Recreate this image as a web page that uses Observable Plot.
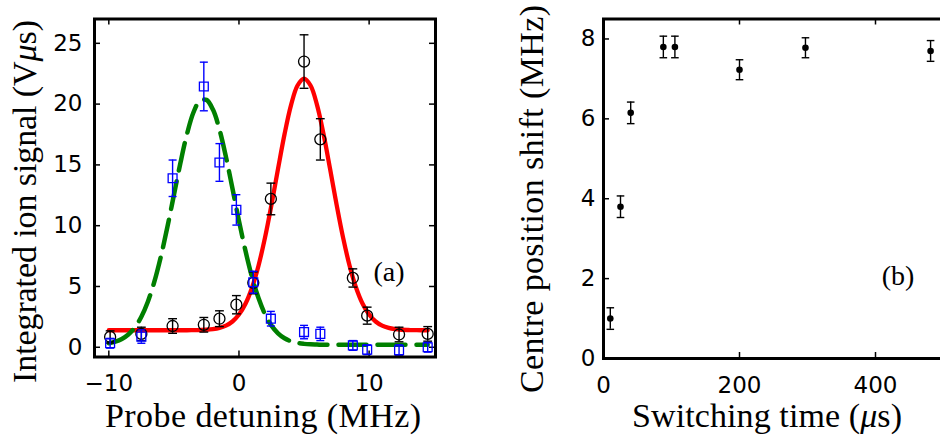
<!DOCTYPE html>
<html><head><meta charset="utf-8">
<script src="https://cdn.jsdelivr.net/npm/d3@7"></script>
<script src="https://cdn.jsdelivr.net/npm/@observablehq/plot@0.6"></script>
<style>
html,body{margin:0;padding:0;background:#fff;overflow:hidden}
#wrap{position:relative;width:940px;height:438px;overflow:hidden;background:#fff}
.panel{position:absolute;top:0}
#overlay{position:absolute;left:0;top:0;pointer-events:none}
</style></head><body>
<div id="wrap"><div id="pa" class="panel" style="left:0;width:470px"></div><div id="pb" class="panel" style="left:470px;width:480px"></div></div>
<script>
// ---------- Panel (a) data ----------
const detuning = [-9.9, -7.5, -5.1, -2.7, -1.5, -0.2, 1.1, 2.45, 5.0, 6.25, 8.75, 9.85, 12.3, 14.5];
const ionBlack = [0.85, 1.1, 1.75, 1.85, 2.35, 3.5, 5.3, 12.2, 23.5, 17.1, 5.7, 2.6, 1.05, 1.1];
const ionBlackErr = [0.5, 0.55, 0.6, 0.6, 0.65, 0.75, 0.9, 1.3, 2.2, 1.7, 0.75, 0.7, 0.6, 0.6];
const ionBlue = [0.33, 0.88, 13.9, 21.45, 15.2, 11.3, 5.35, 2.35, 1.25, 1.1, 0.15, -0.2, -0.25, 0.0];
const ionBlueErr = [0.4, 0.55, 1.5, 2.0, 1.55, 1.25, 0.9, 0.6, 0.55, 0.55, 0.4, 0.4, 0.45, 0.4];
const fitX = [-10,-9.5,-9,-8.5,-8,-7.5,-7,-6.5,-6,-5.5,-5,-4.5,-4,-3.5,-3,-2.5,-2,-1.5,-1,-0.5,0,0.5,1,1.5,2,2.5,3,3.5,4,4.5,5,5.5,6,6.5,7,7.5,8,8.5,9,9.5,10,10.5,11,11.5,12,12.5,13,13.5,14,14.5];
const fitRed = [1.40,1.40,1.40,1.40,1.40,1.40,1.40,1.40,1.40,1.40,1.40,1.40,1.40,1.41,1.42,1.44,1.49,1.59,1.78,2.12,2.69,3.58,4.90,6.71,9.02,11.74,14.67,17.52,19.92,21.53,22.10,21.53,19.92,17.52,14.67,11.74,9.02,6.71,4.90,3.58,2.69,2.12,1.78,1.59,1.49,1.44,1.42,1.41,1.40,1.40];
const fitGreen = [0.33,0.46,0.68,1.05,1.63,2.51,3.75,5.40,7.47,9.89,12.52,15.15,17.51,19.31,20.28,20.35,19.55,17.92,15.66,13.06,10.40,7.93,5.78,4.05,2.72,1.78,1.15,0.74,0.49,0.35,0.28,0.24,0.22,0.20,0.20,0.20,0.20,0.20,0.20,0.20,0.20,0.20,0.20,0.20,0.20,0.20,0.20,0.20,0.20,0.20];
const xTicksA = [-10, 0, 10];
const yTicksA = [0, 5, 10, 15, 20, 25];

// ---------- Panel (b) data ----------
const switchTime = [10, 25, 40, 88, 105, 200, 297, 481];
const centreShift = [1.0, 3.8, 6.15, 7.8, 7.8, 7.23, 7.78, 7.7];
const centreShiftErr = [0.27, 0.27, 0.27, 0.27, 0.27, 0.25, 0.25, 0.26];
const xTicksB = [0, 200, 400];
const yTicksB = [0, 2, 4, 6, 8];

const black = detuning.map((x, i) => ({x, y: ionBlack[i], e: ionBlackErr[i]}));
const blue = detuning.map((x, i) => ({x, y: ionBlue[i], e: ionBlueErr[i]}));
const redFit = fitX.map((x, i) => ({x, y: fitRed[i]}));
const greenFit = fitX.map((x, i) => ({x, y: fitGreen[i]}));
const shiftPts = switchTime.map((x, i) => ({x, y: centreShift[i], e: centreShiftErr[i]}));

const capSymbol = {draw(ctx, size) { const w = Math.sqrt(size / Math.PI); ctx.moveTo(-w, 0); ctx.lineTo(w, 0); }};
function errorBars(data, color, capR) {
  return [
    Plot.ruleX(data, {x: "x", y1: d => d.y - d.e, y2: d => d.y + d.e, stroke: color, strokeWidth: 1.4}),
    Plot.dot(data, {x: "x", y: d => d.y - d.e, symbol: capSymbol, r: capR, stroke: color, fill: "none", strokeWidth: 1.4}),
    Plot.dot(data, {x: "x", y: d => d.y + d.e, symbol: capSymbol, r: capR, stroke: color, fill: "none", strokeWidth: 1.4})
  ];
}
const style = {fontFamily: "'DejaVu Sans', sans-serif", fontSize: "23px", color: "#000", background: "transparent", maxWidth: "none", overflow: "visible"};
const TL = 6;

// Panel (a)
const A = {w: 470, h: 438, ml: 94, mr: 35, mt: 18.5, mb: 81.5};
const aiw = A.w - A.ml - A.mr, aih = A.h - A.mt - A.mb;
const plotA = Plot.plot({
  width: A.w, height: A.h, marginLeft: A.ml, marginRight: A.mr, marginTop: A.mt, marginBottom: A.mb,
  style,
  x: {domain: [-11.1, 15.1]},
  y: {domain: [-0.8, 27]},
  marks: [
    Plot.axisX(xTicksA, {tickSize: 0, tickPadding: 18, label: null, fontSize: 23}),
    Plot.axisY(yTicksA, {tickSize: 0, tickPadding: 12, label: null, fontSize: 23}),
    Plot.tickX(xTicksA, {x: d => d, insetTop: aih - TL, strokeWidth: 1.5}),
    Plot.tickX(xTicksA, {x: d => d, insetBottom: aih - TL, strokeWidth: 1.5}),
    Plot.tickY(yTicksA, {y: d => d, insetRight: aiw - TL, strokeWidth: 1.5}),
    Plot.tickY(yTicksA, {y: d => d, insetLeft: aiw - TL, strokeWidth: 1.5}),
    Plot.line(redFit, {x: "x", y: "y", stroke: "#ff0000", strokeWidth: 4.3, curve: "catmull-rom"}),
    Plot.line(greenFit, {x: "x", y: "y", stroke: "#007f00", strokeWidth: 4.5, strokeDasharray: "28,11", curve: "catmull-rom"}),
    ...errorBars(black, "#000", 4.4),
    Plot.dot(black, {x: "x", y: "y", r: 5.5, stroke: "#000", fill: "none", strokeWidth: 1.3}),
    ...errorBars(blue, "#0000ff", 4),
    Plot.dot(blue, {x: "x", y: "y", r: 5, symbol: "square", stroke: "#0000ff", fill: "none", strokeWidth: 1.3}),
    Plot.frame({strokeWidth: 3})
  ]
});
document.getElementById("pa").append(plotA);

// Panel (b)
const B = {w: 480, h: 438, ml: 133, mr: 7, mt: 18.5, mb: 80};
const biw = B.w - B.ml - B.mr, bih = B.h - B.mt - B.mb;
const plotB = Plot.plot({
  width: B.w, height: B.h, marginLeft: B.ml, marginRight: B.mr, marginTop: B.mt, marginBottom: B.mb,
  style,
  x: {domain: [0, 500]},
  y: {domain: [0, 8.5]},
  marks: [
    Plot.axisX(xTicksB, {tickSize: 0, tickPadding: 18, label: null, fontSize: 23}),
    Plot.axisY(yTicksB, {tickSize: 0, tickPadding: 8, label: null, fontSize: 23}),
    Plot.tickX(xTicksB, {x: d => d, insetTop: bih - TL, strokeWidth: 1.5}),
    Plot.tickX(xTicksB, {x: d => d, insetBottom: bih - TL, strokeWidth: 1.5}),
    Plot.tickY(yTicksB, {y: d => d, insetRight: biw - TL, strokeWidth: 1.5}),
    ...errorBars(shiftPts, "#000", 3.8),
    Plot.dot(shiftPts, {x: "x", y: "y", r: 3.3, fill: "#000", stroke: "none"}),
    Plot.frame({strokeWidth: 3})
  ]
});
document.getElementById("pb").append(plotB);

// Titles overlay (real text)
const ns = "http://www.w3.org/2000/svg";
const ov = document.createElementNS(ns, "svg");
ov.setAttribute("id", "overlay"); ov.setAttribute("width", 940); ov.setAttribute("height", 438);
function addText(parts, attrs) {
  const t = document.createElementNS(ns, "text");
  for (const k in attrs) t.setAttribute(k, attrs[k]);
  t.setAttribute("font-family", "'Liberation Serif', serif");
  t.setAttribute("fill", "#000");
  for (const [s, it] of parts) {
    const sp = document.createElementNS(ns, "tspan");
    sp.textContent = s;
    if (it) sp.setAttribute("font-style", "italic");
    t.append(sp);
  }
  ov.append(t);
}
addText([["Probe detuning (MHz)", false]], {x: 263, y: 427, "text-anchor": "middle", "font-size": 34, textLength: 316, lengthAdjust: "spacing"});
addText([["Switching time (", false], ["\u03bc", true], ["s)", false]], {x: 767, y: 427, "text-anchor": "middle", "font-size": 34, textLength: 270, lengthAdjust: "spacing"});
addText([["Integrated ion signal (V", false], ["\u03bc", true], ["s)", false]], {transform: "translate(35.5,201.5) rotate(-90)", "text-anchor": "middle", "font-size": 34, textLength: 363, lengthAdjust: "spacing"});
addText([["Centre position shift (MHz)", false]], {transform: "translate(543,199) rotate(-90)", "text-anchor": "middle", "font-size": 34, textLength: 388, lengthAdjust: "spacing"});
addText([["(a)", false]], {x: 389, y: 281, "text-anchor": "middle", "font-size": 28});
addText([["(b)", false]], {x: 898, y: 285, "text-anchor": "middle", "font-size": 28});
document.getElementById("wrap").append(ov);
</script>
</body></html>
